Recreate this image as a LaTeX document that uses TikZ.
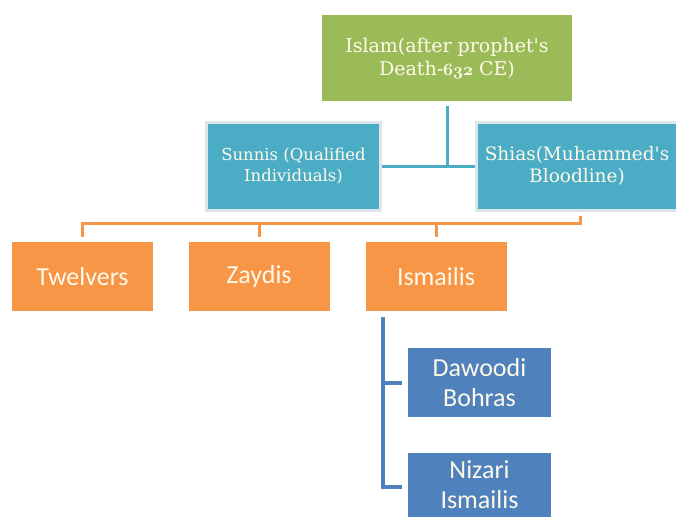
\documentclass[tikz,border=0pt]{standalone}
\usepackage{fontspec}
\newfontfamily\calibri{Carlito}
\newfontfamily\georgia{DejaVu Serif}
\newcommand{\osnum}[1]{{\usefont{OML}{cmm}{b}{it}#1}}
\definecolor{islamgreen}{HTML}{9BBB59}
\definecolor{sectteal}{HTML}{4BACC6}
\definecolor{branchorange}{HTML}{F79646}
\definecolor{subblue}{HTML}{4F81BD}
\definecolor{boxtext}{HTML}{FFF9EA}
\definecolor{boxedge}{HTML}{DCE5EA}
\begin{document}
\begin{tikzpicture}[x=1pt,y=-1pt,
  box/.style={rectangle, inner sep=0pt, text=boxtext, align=center},
  sectbox/.style={box, fill=sectteal, draw=boxedge, line width=3pt, minimum height=88pt},
  branchbox/.style={box, fill=branchorange, minimum width=141pt, minimum height=69pt,
    font=\calibri\fontsize{26}{31}\selectfont},
  subbox/.style={box, fill=subblue, minimum width=143pt, minimum height=69pt,
    font=\calibri\fontsize{26}{30}\selectfont},
  tealline/.style={draw=sectteal, line width=3pt},
  orangeline/.style={draw=branchorange, line width=3pt},
  blueline/.style={draw=subblue, line width=4pt}]
\useasboundingbox (0,0) rectangle (676,516);
\node[box, fill=islamgreen, minimum width=250pt, minimum height=86pt,
  font=\georgia\fontsize{19}{23}\selectfont] (islam) at (447,58)
  {Islam(after prophet's\\Death-\osnum{632} CE)};
\node[sectbox, minimum width=174pt, font=\georgia\fontsize{16.5}{21}\selectfont] (sunnis) at (293.5,166)
  {Sunnis (Qualified\\Individuals)};
\node[sectbox, minimum width=202pt, font=\georgia\fontsize{18.5}{22}\selectfont] (shias) at (577,166)
  {Shias(Muhammed's\\Bloodline)};
% second level
\node[branchbox] (twelvers) at (82.5,276.5) {Twelvers};
\node[branchbox] (zaydis) at (259,276.5) {Zaydis};
\node[branchbox] (ismailis) at (436,276.5) {Ismailis};
% third level
\node[subbox] (dawoodi) at (479.5,382.5) {Dawoodi\\Bohras};
\node[subbox, minimum height=64pt] (nizari) at (479.5,485) {Nizari\\Ismailis};
% connectors
\draw[tealline, shorten <=5pt] (islam.south) -- (islam.south |- sunnis.east);
\draw[tealline] (sunnis.east) -- (shias.west);
\coordinate (obar) at (0,223);
\draw[orangeline, shorten <=4pt] ([xshift=3pt]shias.south) -- ([xshift=3pt]shias.south |- obar)
  -| ([yshift=5pt]twelvers.north);
\foreach \n in {zaydis,ismailis}
  \draw[orangeline] (\n.north |- obar) -- ([yshift=5pt]\n.north);
\coordinate (ispine) at ([xshift=18pt,yshift=-6pt]ismailis.south west);
\draw[blueline] (ispine) |- ([xshift=-6pt,yshift=-2pt]nizari.west);
\draw[blueline] (ispine |- dawoodi.west) -- ([xshift=-6pt]dawoodi.west);
\end{tikzpicture}
\end{document}
